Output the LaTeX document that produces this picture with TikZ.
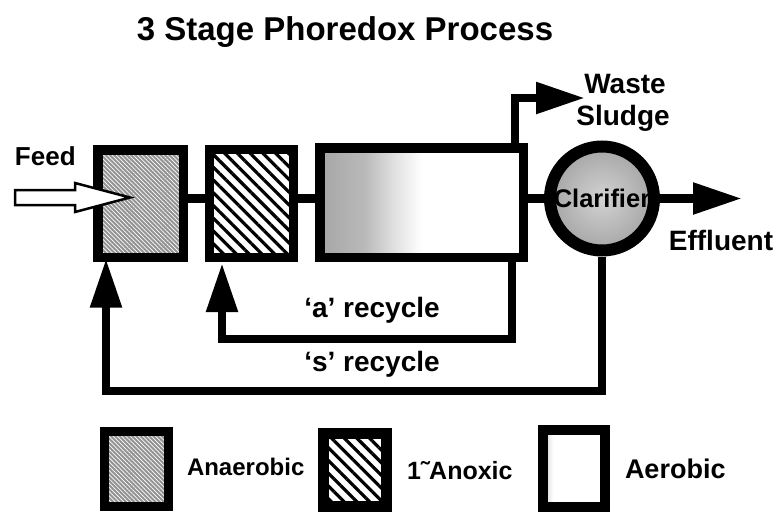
\documentclass[tikz,border=0pt]{standalone}
\usepackage{fontspec}
\setmainfont{Liberation Sans}
\usetikzlibrary{arrows.meta,patterns.meta,shapes.geometric}
\pgfdeclarehorizontalshading{aershade}{100bp}{color(0bp)=(gray!70); color(25bp)=(gray!70); color(36bp)=(gray!55); color(43bp)=(gray!25); color(50bp)=(white); color(100bp)=(white)}
\pgfdeclarehorizontalshading{aerlegend}{100bp}{color(0bp)=(gray!40); color(25bp)=(gray!40); color(33bp)=(white); color(100bp)=(white)}
\newcommand\fsz[1]{\fontsize{#1}{#1}\selectfont\bfseries}
\tikzset{
  tank/.style={draw=black, line width=#1, inner sep=0pt, outer sep=0.5\pgflinewidth},
  anaer/.style={preaction={fill=gray!85}, pattern={Lines[angle=-45,distance=3pt,line width=0.7pt]}, pattern color=white},
  anox/.style={preaction={fill=white}, pattern={Lines[angle=-45,distance=9pt,line width=3.2pt]}, pattern color=black},
  conn/.style={draw=black, line width=8.5pt},
  bigtip/.style={-{Triangle[length=49pt,width=30pt]}},
  lbl/.style={inner sep=0pt, outer sep=0pt, text=black},
  feedarrow/.style={draw=black, line width=2.5pt, fill=white, line join=miter}
}
\begin{document}
\begin{tikzpicture}[x=1pt,y=-1pt]
\useasboundingbox (0,0) rectangle (777,514);
\fill[white] (0,0) rectangle (777,514);

% title
\node[lbl, anchor=base] (title) at (345,40) {\fsz{33}3 Stage Phoredox Process};

% process units
\node[tank=9.5pt, anaer, minimum width=85.5pt, minimum height=107.5pt] (box1) at (140.5,203.5) {};
\node[tank=9pt, anox, minimum width=84pt, minimum height=108pt] (box2) at (251.5,203.5) {};
\node[tank=9.5pt, shading=aershade, minimum width=203.5pt, minimum height=109.5pt] (box3) at (421.5,202.5) {};
\node[circle, tank=12pt, shading=radial, inner color=gray!35, outer color=gray!70, minimum size=104pt] (clar) at (602,198.5) {\fsz{25.5}Clarifier};

% connectors between units
\draw[conn] (box1.east |- clar.center) -- (box2.west |- clar.center);
\draw[conn] (box2.east |- clar.center) -- (box3.west |- clar.center);
\draw[conn] (box3.east |- clar.center) -- (clar.west);

% effluent
\coordinate (efftip) at (742,198.5);
\draw[conn, bigtip] (clar.east) -- (efftip);
\node[lbl, anchor=base] (eff) at (721,250) {\fsz{28}Effluent};

% waste sludge
\coordinate (wtip) at (585,98);
\draw[conn, bigtip] ([xshift=-13pt]box3.north east) |- (wtip);
\node[lbl, anchor=base] (waste) at (625,93) {\fsz{28}Waste};
\node[lbl, anchor=base] (sludge) at (623,125) {\fsz{28}Sludge};

% recycles
\draw[conn, bigtip, shorten >=4pt] ([xshift=-16pt]box3.south east) -- ++(0,77) -| ([xshift=-29.5pt]box2.south);
\node[lbl, anchor=base] (arec) at (372,317) {\fsz{28}‘a’ recycle};
\draw[conn, bigtip, shorten >=1pt] (clar.south) -- ++(0,134.5) -| ([xshift=-34.5pt]box1.south);
\node[lbl, anchor=base] (srec) at (372,371) {\fsz{28}‘s’ recycle};

% feed
\node[lbl, anchor=base west] (feed) at (15,165) {\fsz{26}Feed};
\draw[feedarrow] (15,190) -- (75,190) -- (75,183) -- (130,197.5) -- (75,212) -- (75,205) -- (15,205) -- cycle;

% legend
\node[tank=9pt, anaer, minimum width=64pt, minimum height=75pt] (lg1) at (136.5,469) {};
\node[lbl, anchor=base west] (lt1) at (187,475) {\fsz{24}Anaerobic};
\node[tank=11pt, anox, minimum width=63pt, minimum height=73pt] (lg2) at (355,470) {};
\node[lbl, anchor=base west] (lt2) at (407,479) {\fsz{25}1˜Anoxic};
\node[tank=10pt, shading=aerlegend, minimum width=62pt, minimum height=77pt] (lg3) at (574,468.5) {};
\node[lbl, anchor=base west] (lt3) at (625,478) {\fsz{27}Aerobic};
\end{tikzpicture}
\end{document}
